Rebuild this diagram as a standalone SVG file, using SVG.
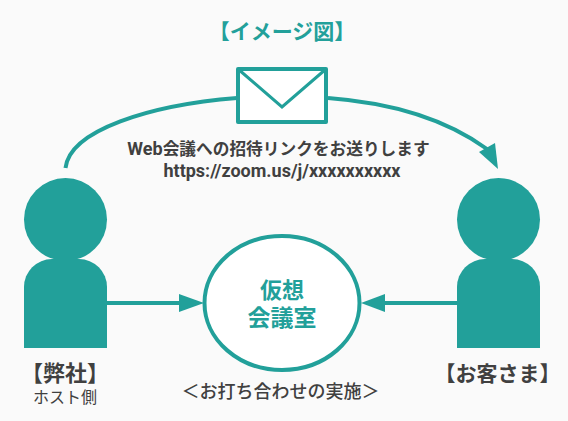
<svg xmlns="http://www.w3.org/2000/svg" width="568" height="421" viewBox="0 0 568 421">
<style>
text{font-family:Roboto,"Noto Sans CJK JP",sans-serif;text-anchor:middle;fill:#404040}
.b{font-weight:700}
.t{fill:#22a09a;font-weight:700}
.l{fill:none;stroke:#22a09a;stroke-width:4}
.f{fill:#22a09a}
</style>
<rect width="568" height="421" fill="#fafafa"/>
<g id="connectors">
<path class="l" d="M65.500 168C70 130 150 105 237 98"/>
<path class="l" d="M328 98C395 103 447 120 487 149"/>
<polygon class="f" points="498,169 479,152 495,143"/>
<line class="l" x1="107" y1="303" x2="182" y2="303"/>
<polygon class="f" points="204,303 179,294 179,312"/>
<line class="l" x1="457" y1="303" x2="382" y2="303"/>
<polygon class="f" points="361,303 385,294 385,312"/>
</g>
<g id="title"><text class="t" x="282" y="39" font-size="21">【イメージ図】</text></g>
<g id="mail">
<rect x="238" y="69" width="88" height="53" fill="#fff" stroke="#22a09a" stroke-width="4" stroke-linejoin="round"/>
<path class="l" d="M238 69L282 107L326 69" style="stroke-width:3"/>
</g>
<g id="message">
<text class="b" x="278.500" y="155" font-size="16.700"><tspan font-size="18">Web</tspan>会議への招待リンクをお送りします</text>
<text class="b" x="282" y="177" font-size="18">https://zoom.us/j/xxxxxxxxxx</text>
</g>
<g id="host">
<circle class="f" cx="65.500" cy="219.500" r="41.500"/>
<path class="f" d="M24 348V287A28 28 0 0 1 52 259H79A28 28 0 0 1 107 287V348Z"/>
<text class="b" x="65" y="381" font-size="22">【弊社】</text>
<text x="65" y="403" font-size="16">ホスト側</text>
</g>
<g id="guest">
<circle class="f" cx="498.500" cy="219.500" r="41.500"/>
<path class="f" d="M457 348V287A28 28 0 0 1 485 259H512A28 28 0 0 1 540 287V348Z"/>
<text class="b" x="497.500" y="381" font-size="21">【お客さま】</text>
</g>
<g id="room">
<ellipse cx="282" cy="303" rx="77.500" ry="67" fill="#fff" stroke="#22a09a" stroke-width="4"/>
<text class="t" x="282" y="298" font-size="22">仮想</text>
<text class="t" x="282" y="326" font-size="23">会議室</text>
</g>
<g id="caption"><text x="280.500" y="398" font-size="18" font-weight="500">＜お打ち合わせの実施＞</text></g>
</svg>
